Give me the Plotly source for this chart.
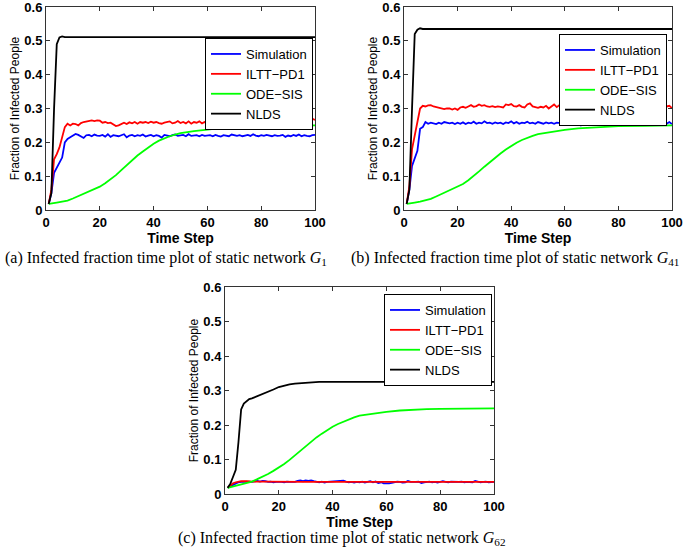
import plotly.graph_objects as go

# ---------------- data ----------------
t = list(range(1, 101))

# Panel (a): static network G1
sim_a = [0.018, 0.05, 0.11, 0.125, 0.14, 0.155, 0.2, 0.21, 0.215, 0.22,
         0.225, 0.222, 0.218, 0.213, 0.221, 0.222, 0.218, 0.223, 0.22, 0.219,
         0.222, 0.217, 0.224, 0.216, 0.221, 0.22, 0.218, 0.221, 0.224, 0.215,
         0.22, 0.222, 0.218, 0.221, 0.219, 0.223, 0.217, 0.22, 0.222, 0.218,
         0.221, 0.219, 0.214, 0.222, 0.22, 0.218, 0.221, 0.223, 0.219, 0.22,
         0.222, 0.218, 0.224, 0.219, 0.22, 0.221, 0.218, 0.222, 0.219, 0.22,
         0.221, 0.218, 0.222, 0.219, 0.217, 0.221, 0.22, 0.218, 0.223, 0.22,
         0.219, 0.221, 0.218, 0.22, 0.222, 0.219, 0.224, 0.22, 0.218, 0.221,
         0.219, 0.222, 0.22, 0.218, 0.221, 0.219, 0.22, 0.222, 0.216, 0.22,
         0.218, 0.222, 0.219, 0.223, 0.218, 0.221, 0.219, 0.218, 0.221, 0.222]
iltt_a = [0.018, 0.06, 0.15, 0.165, 0.185, 0.215, 0.245, 0.255, 0.25, 0.255,
          0.254, 0.25, 0.257, 0.26, 0.262, 0.264, 0.265, 0.263, 0.265, 0.264,
          0.258, 0.26, 0.257, 0.258, 0.252, 0.248, 0.25, 0.255, 0.258, 0.254,
          0.259, 0.256, 0.26, 0.255, 0.26, 0.258, 0.26, 0.257, 0.261, 0.258,
          0.26, 0.257, 0.255, 0.258, 0.26, 0.262, 0.256, 0.258, 0.263, 0.257,
          0.26, 0.256, 0.262, 0.255, 0.26, 0.258, 0.262, 0.256, 0.26, 0.258,
          0.261, 0.255, 0.259, 0.262, 0.257, 0.258, 0.262, 0.256, 0.25, 0.258,
          0.26, 0.262, 0.255, 0.252, 0.255, 0.258, 0.262, 0.26, 0.265, 0.264,
          0.268, 0.27, 0.266, 0.272, 0.268, 0.265, 0.26, 0.255, 0.254, 0.256,
          0.262, 0.265, 0.27, 0.266, 0.268, 0.275, 0.27, 0.268, 0.27, 0.266]
ode_t = [1, 2, 4, 6, 8, 10, 12, 14, 16, 18, 20, 22, 24, 26, 28, 30, 32, 34, 36, 38,
         40, 42, 44, 46, 48, 50, 55, 60, 65, 70, 75, 80, 90, 100]
ode_a = [0.018, 0.02, 0.022, 0.025, 0.028, 0.034, 0.041, 0.048, 0.055, 0.062,
         0.069, 0.079, 0.09, 0.103, 0.118, 0.133, 0.148, 0.161, 0.173, 0.185,
         0.196, 0.205, 0.212, 0.218, 0.223, 0.227, 0.233, 0.238, 0.242, 0.245,
         0.247, 0.248, 0.249, 0.25]
nlds_a_t = [1, 2, 3, 4, 5, 6, 7, 10, 100]
nlds_a = [0.018, 0.05, 0.3, 0.49, 0.51, 0.513, 0.511, 0.511, 0.511]

# Panel (b): static network G41
sim_b = [0.018, 0.06, 0.13, 0.15, 0.175, 0.24, 0.245, 0.26, 0.255, 0.258,
         0.256, 0.254, 0.258, 0.255, 0.26, 0.257, 0.256, 0.258, 0.254, 0.258,
         0.255, 0.259, 0.254, 0.258, 0.256, 0.261, 0.255, 0.258, 0.256, 0.262,
         0.257, 0.258, 0.255, 0.259, 0.256, 0.258, 0.254, 0.259, 0.257, 0.262,
         0.256, 0.26, 0.255, 0.258, 0.257, 0.261, 0.256, 0.258, 0.255, 0.26,
         0.257, 0.255, 0.259, 0.256, 0.258, 0.255, 0.258, 0.257, 0.256, 0.262,
         0.258, 0.256, 0.26, 0.257, 0.255, 0.25, 0.256, 0.258, 0.255, 0.257,
         0.256, 0.258, 0.255, 0.257, 0.256, 0.254, 0.258, 0.255, 0.257, 0.26,
         0.256, 0.258, 0.255, 0.254, 0.257, 0.26, 0.255, 0.257, 0.254, 0.258,
         0.255, 0.257, 0.254, 0.256, 0.255, 0.257, 0.258, 0.255, 0.26, 0.254]
iltt_b = [0.018, 0.07, 0.18, 0.22, 0.265, 0.3, 0.308, 0.306, 0.309, 0.31,
          0.306, 0.304, 0.303, 0.302, 0.298, 0.3, 0.3, 0.297, 0.3, 0.296,
          0.303, 0.305, 0.302, 0.306, 0.31, 0.305, 0.307, 0.312, 0.308, 0.31,
          0.306, 0.305, 0.307, 0.304, 0.306, 0.305, 0.303, 0.312, 0.31, 0.313,
          0.307, 0.306, 0.31, 0.305, 0.303, 0.312, 0.315, 0.306, 0.304, 0.302,
          0.305, 0.303, 0.308, 0.3, 0.306, 0.312, 0.304, 0.31, 0.305, 0.312,
          0.314, 0.306, 0.311, 0.316, 0.31, 0.306, 0.312, 0.305, 0.303, 0.308,
          0.306, 0.302, 0.307, 0.305, 0.31, 0.308, 0.312, 0.317, 0.32, 0.316,
          0.31, 0.306, 0.312, 0.308, 0.305, 0.315, 0.313, 0.309, 0.306, 0.308,
          0.305, 0.303, 0.307, 0.302, 0.298, 0.305, 0.307, 0.306, 0.308, 0.301]
ode_b = [0.018, 0.02, 0.022, 0.025, 0.028, 0.033, 0.04, 0.047, 0.054, 0.061,
         0.068, 0.077, 0.088, 0.1, 0.114, 0.128, 0.142, 0.155, 0.167, 0.179,
         0.19, 0.199, 0.207, 0.214, 0.219, 0.224, 0.231, 0.237, 0.241, 0.244,
         0.246, 0.248, 0.249, 0.25]
nlds_b_t = [1, 2, 3, 4, 5, 6, 7, 10, 100]
nlds_b = [0.018, 0.06, 0.3, 0.52, 0.533, 0.537, 0.535, 0.535, 0.535]

# Panel (c): static network G62
sim_c = [0.018, 0.022, 0.028, 0.032, 0.034, 0.035, 0.036, 0.035, 0.036, 0.035,
         0.037, 0.038, 0.036, 0.038, 0.037, 0.035, 0.036, 0.034, 0.035, 0.036,
         0.035, 0.034, 0.036, 0.035, 0.034, 0.035, 0.038, 0.039, 0.037, 0.039,
         0.038, 0.039, 0.037, 0.035, 0.034, 0.036, 0.033, 0.035, 0.036, 0.037,
         0.038, 0.039, 0.038, 0.039, 0.036, 0.034, 0.035, 0.033, 0.035, 0.034,
         0.036, 0.033, 0.035, 0.037, 0.034, 0.036, 0.032, 0.034, 0.031, 0.03,
         0.031, 0.032, 0.034, 0.036, 0.035, 0.033, 0.034, 0.038, 0.035, 0.034,
         0.035, 0.036, 0.032, 0.034, 0.035, 0.036, 0.034, 0.035, 0.033, 0.034,
         0.037, 0.035, 0.034, 0.036, 0.035, 0.034, 0.035, 0.036, 0.034, 0.035,
         0.035, 0.034, 0.038, 0.035, 0.034, 0.035, 0.036, 0.034, 0.035, 0.035]
iltt_c_t = [1, 2, 3, 4, 5, 6, 8, 10, 15, 20, 30, 40, 50, 60, 70, 80, 90, 100]
iltt_c = [0.018, 0.026, 0.031, 0.034, 0.036, 0.037, 0.037, 0.036, 0.036, 0.035,
          0.035, 0.035, 0.035, 0.035, 0.035, 0.035, 0.035, 0.035]
ode_c = [0.018, 0.02, 0.023, 0.026, 0.03, 0.036, 0.043, 0.05, 0.058, 0.067,
         0.076, 0.087, 0.099, 0.112, 0.126, 0.14, 0.152, 0.164, 0.175, 0.186,
         0.195, 0.203, 0.21, 0.216, 0.222, 0.227, 0.233, 0.238, 0.242, 0.245,
         0.246, 0.247, 0.248, 0.248]
nlds_c_t = [1, 2, 3, 4, 5, 6, 7, 8, 9, 10, 12, 14, 16, 18, 20, 22, 24, 26, 28, 30, 35, 100]
nlds_c = [0.018, 0.03, 0.05, 0.07, 0.15, 0.245, 0.262, 0.27, 0.275, 0.277, 0.283, 0.29,
          0.297, 0.303, 0.31, 0.315, 0.318, 0.32, 0.321, 0.323, 0.325, 0.325]

series_names = ["Simulation", "ILTT\u2212PD1", "ODE\u2212SIS", "NLDS"]
colors = ["#0000ff", "#ff0000", "#00ff00", "#000000"]
x_ticks = [0, 20, 40, 60, 80, 100]
y_ticks = [0, 0.1, 0.2, 0.3, 0.4, 0.5, 0.6]
captions = ["(a) Infected fraction time plot of static network <i>G</i><sub>1</sub>",
            "(b) Infected fraction time plot of static network <i>G</i><sub>41</sub>",
            "(c) Infected fraction time plot of static network <i>G</i><sub>62</sub>"]

panels = [
    [(t, sim_a), (t, iltt_a), (ode_t, ode_a), (nlds_a_t, nlds_a)],
    [(t, sim_b), (t, iltt_b), (ode_t, ode_b), (nlds_b_t, nlds_b)],
    [(t, sim_c), (iltt_c_t, iltt_c), (ode_t, ode_c), (nlds_c_t, nlds_c)],
]

W, H = 685, 547
# panel boxes in pixels: left, right, top, bottom
boxes = [(46, 315, 7, 210), (404, 672, 7, 210), (225, 494, 287, 494)]
legend_pos = [(313, 38), (667, 34), (492, 294)]
caption_pos = [(166, 258), (515, 258), (342, 538)]

fig = go.Figure()
legend_ids = ["legend", "legend2", "legend3"]
for p, series in enumerate(panels):
    sfx = "" if p == 0 else str(p + 1)
    for (xs, ys), name, col in zip(series, series_names, colors):
        fig.add_trace(go.Scatter(
            x=xs, y=ys, mode="lines", name=name,
            line=dict(color=col, width=1.8),
            xaxis="x" + sfx, yaxis="y" + sfx,
            legend=legend_ids[p], showlegend=True))

tick_font = dict(family="Liberation Sans, Arial, sans-serif", size=13, color="black", weight="bold")
layout = dict(
    width=W, height=H,
    margin=dict(l=0, r=0, t=0, b=0, autoexpand=False),
    paper_bgcolor="white", plot_bgcolor="white",
    showlegend=True,
)
for p, (l, r, top, bot) in enumerate(boxes):
    sfx = "" if p == 0 else str(p + 1)
    layout["xaxis" + sfx] = dict(
        domain=[l / W, r / W], anchor="y" + sfx, range=[0, 100], automargin=False,
        tickvals=x_ticks, ticks="inside", ticklen=4, tickcolor="#333",
        showline=True, linecolor="#333", linewidth=1, mirror="ticks",
        showgrid=False, zeroline=False, tickfont=tick_font, ticklabeloverflow="allow",
        title=dict(text="Time Step", standoff=0,
                   font=dict(family="Liberation Sans, Arial, sans-serif", size=14,
                             color="black", weight="bold")))
    layout["yaxis" + sfx] = dict(
        domain=[1 - bot / H, 1 - top / H], anchor="x" + sfx, range=[0, 0.6], automargin=False,
        tickvals=y_ticks, ticks="inside", ticklen=4, tickcolor="#333",
        showline=True, linecolor="#333", linewidth=1, mirror="ticks",
        showgrid=False, zeroline=False, tickfont=tick_font, ticklabeloverflow="allow",
        title=dict(text="Fraction of Infected People", standoff=2,
                   font=dict(family="Liberation Sans, Arial, sans-serif", size=12,
                             color="black")))
    lx, ly = legend_pos[p]
    layout[legend_ids[p]] = dict(
        x=lx / W, y=1 - ly / H, xanchor="right", yanchor="top",
        xref="paper", yref="paper",
        bgcolor="white", bordercolor="black", borderwidth=1,
        font=dict(family="Liberation Sans, Arial, sans-serif", size=13, color="black"),
        tracegroupgap=0)

annotations = []
for (cx, cy), text in zip(caption_pos, captions):
    annotations.append(dict(
        x=cx / W, y=1 - cy / H, xref="paper", yref="paper",
        text=text, showarrow=False, xanchor="center", yanchor="middle",
        font=dict(family="Liberation Serif, Times New Roman, serif", size=16, color="black")))
layout["annotations"] = annotations

fig.update_layout(**layout)
fig.write_html("out.html", config={"displayModeBar": False},
               post_script="document.body.style.margin='0';document.body.style.overflow='hidden';")
